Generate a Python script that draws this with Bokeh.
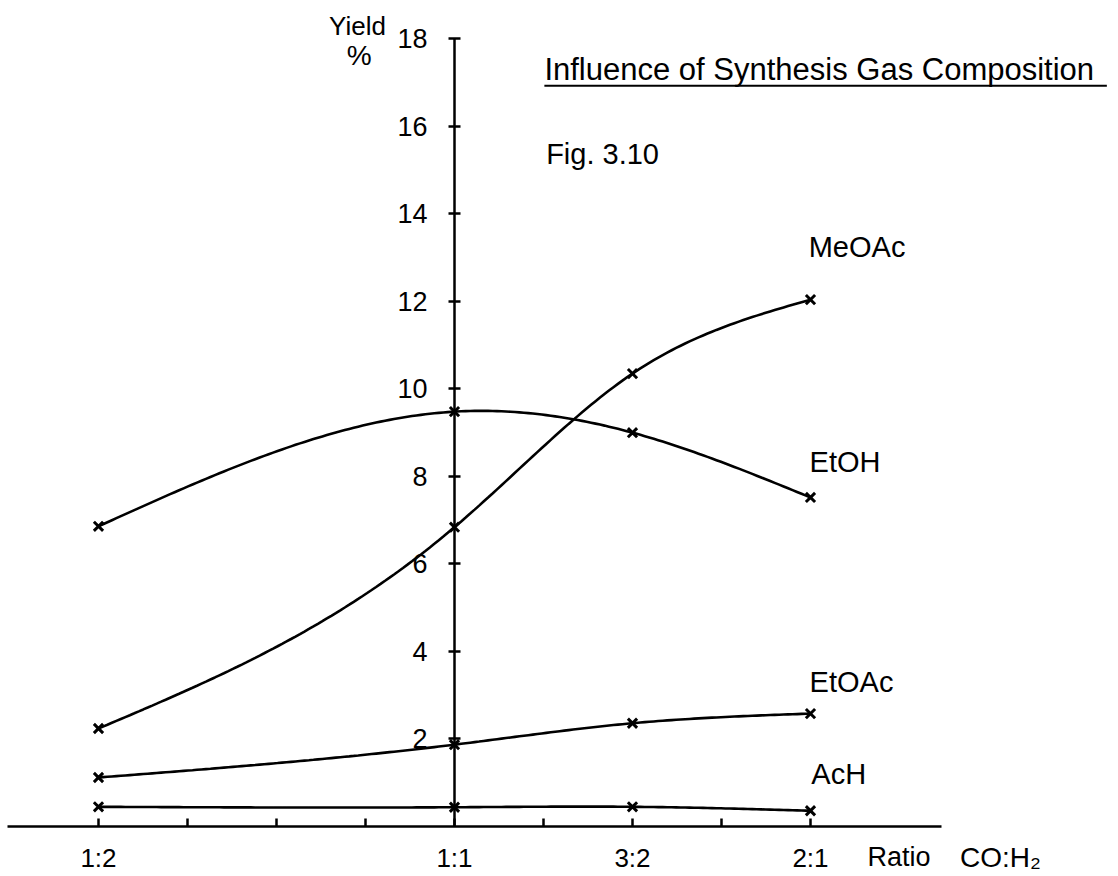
import numpy as np
from bokeh.plotting import figure
from bokeh.models import LinearAxis, FixedTicker, Range1d, ColumnDataSource
from bokeh.core.properties import value
from bokeh.embed import file_html
from bokeh.resources import INLINE

# ---- data ----
ratio_labels = ["1:2", "1:1", "3:2", "2:1"]
ratio_pos = [0, 4, 6, 8]
meoac = [2.24, 6.84, 10.35, 12.04]
etoh = [6.86, 9.48, 9.0, 7.52]
etoac = [1.12, 1.87, 2.36, 2.58]
ach = [0.45, 0.44, 0.45, 0.36]
series_names = ["MeOAc", "EtOH", "EtOAc", "AcH"]
y_ticks = [2, 4, 6, 8, 10, 12, 14, 16, 18]
x_minor_ticks = [0, 1, 2, 3, 4, 5, 6, 7, 8]

FONT = "Liberation Sans"


def natural_spline(xs, ys, n=160):
    xs = np.asarray(xs, float)
    ys = np.asarray(ys, float)
    k = len(xs)
    h = np.diff(xs)
    A = np.zeros((k, k))
    b = np.zeros(k)
    A[0, 0] = 1
    A[-1, -1] = 1
    for i in range(1, k - 1):
        A[i, i - 1] = h[i - 1]
        A[i, i] = 2 * (h[i - 1] + h[i])
        A[i, i + 1] = h[i]
        b[i] = 6 * ((ys[i + 1] - ys[i]) / h[i] - (ys[i] - ys[i - 1]) / h[i - 1])
    M = np.linalg.solve(A, b)
    xx = np.linspace(xs[0], xs[-1], n)
    yy = np.empty_like(xx)
    for j, x in enumerate(xx):
        i = min(np.searchsorted(xs, x, side="right") - 1, k - 2)
        t1 = xs[i + 1] - x
        t0 = x - xs[i]
        yy[j] = (M[i] * t1 ** 3 / (6 * h[i]) + M[i + 1] * t0 ** 3 / (6 * h[i])
                 + (ys[i] / h[i] - M[i] * h[i] / 6) * t1
                 + (ys[i + 1] / h[i] - M[i + 1] * h[i] / 6) * t0)
    return xx, yy


p = figure(width=1110, height=874, output_backend="svg", toolbar_location=None,
           x_range=Range1d(-1.101, 11.371), y_range=Range1d(-1.097, 18.876),
           x_axis_location=None, y_axis_location=None,
           min_border=0, min_border_left=0, min_border_right=0,
           min_border_top=0, min_border_bottom=0)
p.outline_line_color = None
p.grid.visible = False
p.background_fill_color = "white"

# x axis (along y = 0)
xaxis = LinearAxis(fixed_location=0)
xaxis.ticker = FixedTicker(ticks=x_minor_ticks)
xaxis.bounds = (-1.02, 9.47)
overrides = {t: "" for t in x_minor_ticks}
for pos, lab in zip(ratio_pos, ratio_labels):
    overrides[pos] = lab
xaxis.major_label_overrides = overrides
xaxis.major_tick_in = 8
xaxis.major_tick_out = 0
xaxis.minor_tick_line_color = None
xaxis.axis_line_width = 2.5
xaxis.major_tick_line_width = 2.5
xaxis.major_label_text_font = FONT
xaxis.major_label_text_font_size = "26px"
xaxis.major_label_standoff = 17
xaxis.major_label_text_color = "black"
p.add_layout(xaxis, "below")

# y axis at ratio 1:1
yaxis = LinearAxis(fixed_location=4)
yaxis.ticker = FixedTicker(ticks=y_ticks)
yaxis.bounds = (0, 18)
yaxis.major_tick_in = 6
yaxis.major_tick_out = 6
yaxis.minor_tick_line_color = None
yaxis.axis_line_width = 2.5
yaxis.major_tick_line_width = 2.5
yaxis.major_label_text_font = FONT
yaxis.major_label_text_font_size = "27px"
yaxis.major_label_standoff = 21
yaxis.major_label_text_color = "black"
p.add_layout(yaxis, "left")

all_series = [meoac, etoh, etoac, ach]
for vals in all_series:
    xx, yy = natural_spline(ratio_pos, vals)
    p.line(xx, yy, line_color="black", line_width=2.6)
    p.scatter(ratio_pos, vals, marker="x", size=13, line_color="black", line_width=3)

# series labels
lab_src = ColumnDataSource(dict(
    x=[7.98, 7.99, 7.99, 8.01],
    y=[13.25, 8.34, 3.31, 1.19],
    t=series_names))
p.text("x", "y", "t", source=lab_src, text_font=value(FONT), text_font_size="29px",
       text_baseline="middle", text_align="left", text_color="black")

# other texts
p.text([2.91], [18.30], ["Yield"], text_font=value(FONT), text_font_size="26px",
       text_baseline="middle", text_align="center", text_color="black")
p.text([2.93], [17.62], ["%"], text_font=value(FONT), text_font_size="28px",
       text_baseline="middle", text_align="center", text_color="black")
p.text([5.01], [17.30], ["Influence of Synthesis Gas Composition"], text_font=value(FONT),
       text_font_size="31px", text_baseline="middle", text_align="left", text_color="black")
p.segment([5.01], [16.93], [11.33], [16.93], line_color="black", line_width=2)
p.text([5.03], [15.36], ["Fig. 3.10"], text_font=value(FONT), text_font_size="29px",
       text_baseline="middle", text_align="left", text_color="black")
p.text([8.64], [-0.70], ["Ratio"], text_font=value(FONT), text_font_size="27px",
       text_baseline="middle", text_align="left", text_color="black")
p.text([9.68], [-0.70], ["CO:H\u2082"], text_font=value(FONT), text_font_size="28px",
       text_baseline="middle", text_align="left", text_color="black")

open("out.html", "w").write(file_html(p, INLINE))
